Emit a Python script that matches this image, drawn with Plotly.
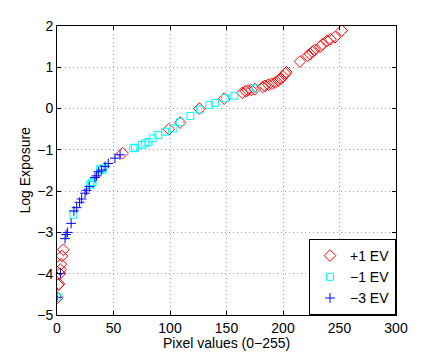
import plotly.graph_objects as go

# +1 EV (red diamonds)
p1_x = [0.3, 1, 1.7, 2.5, 3, 3.6, 4.4, 5.6, 58, 99, 109, 126, 148,
        164, 167, 169, 172, 175, 182, 184, 187, 190, 193, 196, 198, 200, 202, 203,
        215, 222, 224, 226, 228, 233, 235, 239, 242, 246, 252]
p1_y = [-4.58, -4.27, -4.25, -4.0, -3.9, -3.77, -3.57, -3.42, -1.08, -0.50, -0.34, 0.0, 0.24,
        0.38, 0.42, 0.44, 0.45, 0.47, 0.52, 0.55, 0.58, 0.60, 0.63, 0.68, 0.72, 0.78, 0.85, 0.88,
        1.14, 1.28, 1.32, 1.37, 1.42, 1.50, 1.56, 1.64, 1.68, 1.73, 1.89]

# -1 EV (cyan squares)
m1_x = [0, 14.5, 29, 30.5, 31.5, 38, 40, 41, 67.5, 69, 75, 78, 81, 84.6, 89.6, 95.5, 103, 109,
        118, 126.5, 134.8, 139.8, 148.6, 157, 176]
m1_y = [-4.55, -2.57, -1.85, -1.81, -1.78, -1.47, -1.49, -1.45, -0.96, -0.95, -0.88, -0.84, -0.81,
        -0.72, -0.64, -0.56, -0.48, -0.33, -0.18, -0.02, 0.09, 0.14, 0.25, 0.31, 0.49]

# -3 EV (blue pluses)
m3_x = [0, 3, 7.1, 8, 9.4, 12.5, 15, 17.4, 20, 21.8, 24.8, 26.2, 28.6, 33.6, 35, 36.6, 39.5,
        42.5, 45.4, 51.3, 55.8]
m3_y = [-4.57, -4.0, -3.15, -3.05, -3.0, -2.78, -2.48, -2.40, -2.27, -2.19, -2.05, -1.98, -1.89,
        -1.67, -1.63, -1.53, -1.49, -1.40, -1.33, -1.20, -1.12]

x_ticks = [0, 50, 100, 150, 200, 250, 300]
y_ticks = [-5, -4, -3, -2, -1, 0, 1, 2]
x_title = "Pixel values (0\u2212255)"
y_title = "Log Exposure"

fig = go.Figure()
fig.add_trace(go.Scatter(x=p1_x, y=p1_y, mode="markers", name="+1 EV",
                         marker=dict(symbol="diamond-open", size=9, color="#ff0000",
                                     line=dict(width=1, color="#ff0000"))))
fig.add_trace(go.Scatter(x=m1_x, y=m1_y, mode="markers", name="\u22121 EV",
                         marker=dict(symbol="square-open", size=7, color="#00ffff",
                                     line=dict(width=1, color="#00ffff"))))
fig.add_trace(go.Scatter(x=m3_x, y=m3_y, mode="markers", name="\u22123 EV",
                         marker=dict(symbol="cross-thin-open", size=7, color="#0000ff",
                                     line=dict(width=1, color="#0000ff"))))

axis_common = dict(showline=True, linecolor="black", linewidth=1, mirror="ticks",
                   ticks="inside", ticklen=4, tickcolor="black", automargin=False,
                   showgrid=True, gridcolor="#a0a0a0", griddash="1px,3px", gridwidth=1,
                   zeroline=False, tickfont=dict(size=14, color="black"))

fig.update_xaxes(range=[0, 300], tickvals=x_ticks, **axis_common)
fig.update_yaxes(range=[-5, 2], tickvals=y_ticks, **axis_common)

fig.add_annotation(text=x_title, xref="paper", yref="paper", x=0.5, y=0,
                   xanchor="center", yanchor="middle", yshift=-28, showarrow=False,
                   font=dict(size=14, color="black"))
fig.add_annotation(text=y_title, xref="paper", yref="paper", x=0, y=0.5,
                   xanchor="center", yanchor="middle", xshift=-33, textangle=-90,
                   showarrow=False, font=dict(size=14, color="black"))

fig.update_layout(
    width=429, height=347,
    margin=dict(l=49, r=41, t=18, b=40),
    paper_bgcolor="white", plot_bgcolor="white",
    font=dict(family="Liberation Sans, Arial, sans-serif", size=14, color="black"),
    legend=dict(x=1, y=0, xanchor="right", yanchor="bottom",
                bgcolor="white", bordercolor="black", borderwidth=1,
                font=dict(size=14), itemwidth=30, tracegroupgap=0),
    showlegend=True,
)

fig.write_html("out.html")
